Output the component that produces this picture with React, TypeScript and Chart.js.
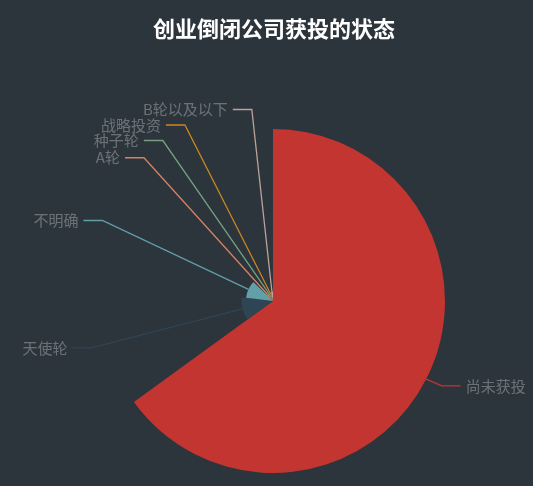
import { useEffect, useRef } from "react";
import { Chart, registerables } from "chart.js";

Chart.register(...registerables);

const chartTitle = "创业倒闭公司获投的状态";
const categories = ["尚未获投", "天使轮", "不明确", "A轮", "种子轮", "战略投资", "B轮以及以下"];
const counts = [3200, 588, 506, 164, 150, 137, 178];
const colors = ["#c23531", "#2f4554", "#61a0a8", "#d48265", "#749f83", "#ca8622", "#bda29a"];

const total = counts.reduce((a, b) => a + b, 0);
const maxCount = Math.max(...counts);

const FONT = '"Noto Sans CJK SC", "Noto Sans", sans-serif';

// echarts-like outside labels: elbow on a ring outside the pie, overlaps spread on y
const roseLabels = {
  id: "roseLabels",
  beforeDraw(chart: any) {
    const ctx = chart.ctx;
    ctx.save();
    ctx.fillStyle = "#ffffff";
    ctx.font = `bold 22px ${FONT}`;
    ctx.textAlign = "center";
    ctx.textBaseline = "middle";
    ctx.fillText(chartTitle, 274, 29);
    ctx.restore();
  },
  afterDatasetsDraw(chart: any) {
    const ctx = chart.ctx;
    const scale = chart.scales.r;
    const cx = scale.xCenter;
    const cy = scale.yCenter;
    const r = scale.drawingArea;
    const len = 15;
    const len2 = 19;
    const lineH = 15.5;
    const meta = chart.getDatasetMeta(0);

    const items = meta.data.map((arc: any, i: number) => {
      const p = arc.getProps(["startAngle", "endAngle", "outerRadius"], true);
      const mid = (p.startAngle + p.endAngle) / 2;
      const dx = Math.cos(mid);
      const dy = Math.sin(mid);
      return {
        i,
        x1: cx + p.outerRadius * dx,
        y1: cy + p.outerRadius * dy,
        x2: cx + (r + len) * dx,
        y: cy + (r + len) * dy,
        side: dx < -1e-6 ? -1 : 1,
        ax: 0,
      };
    });

    for (const side of [-1, 1]) {
      const list = items.filter((it: any) => it.side === side).sort((a: any, b: any) => a.y - b.y);
      // spread overlapping groups around their mean
      for (let iter = 0; iter < 20; iter++) {
        let moved = false;
        let k = 0;
        while (k < list.length) {
          let e = k;
          while (e + 1 < list.length && list[e + 1].y - list[e].y < lineH - 0.01) e++;
          if (e > k) {
            const n = e - k + 1;
            let mean = 0;
            for (let j = k; j <= e; j++) mean += list[j].y;
            mean /= n;
            for (let j = k; j <= e; j++) list[j].y = mean + (j - k - (n - 1) / 2) * lineH;
            moved = true;
          }
          k = e + 1;
        }
        if (!moved) break;
      }
      for (const it of list) {
        const d = Math.abs(it.y - cy);
        if (d < r + len) {
          const R2 = r + len + len2;
          it.ax = cx + side * Math.sqrt(R2 * R2 - d * d);
        } else {
          it.ax = it.x2 + side * len2;
        }
      }
    }

    ctx.save();
    ctx.lineWidth = 1.3;
    ctx.font = `15px ${FONT}`;
    ctx.textBaseline = "middle";
    for (const it of items) {
      const ex = it.ax - it.side * len2;
      ctx.strokeStyle = colors[it.i];
      ctx.beginPath();
      ctx.moveTo(it.x1, it.y1);
      ctx.lineTo(ex, it.y);
      ctx.lineTo(it.ax, it.y);
      ctx.stroke();
      ctx.fillStyle = "rgba(255,255,255,0.3)";
      ctx.textAlign = it.side < 0 ? "right" : "left";
      ctx.fillText(categories[it.i], it.ax + it.side * 5, it.y);
    }
    ctx.restore();
  },
};

export default function App() {
  const canvasRef = useRef<HTMLCanvasElement>(null);
  const chartRef = useRef<Chart | null>(null);

  useEffect(() => {
    if (!canvasRef.current) return;
    if (chartRef.current) chartRef.current.destroy();

    chartRef.current = new Chart(canvasRef.current, {
      type: "polarArea",
      data: {
        labels: categories,
        datasets: [
          {
            data: counts,
            backgroundColor: colors,
            borderWidth: 0,
            angle: (c: any) => (counts[c.dataIndex] / total) * 360,
          } as any,
        ],
      },
      options: {
        animation: false,
        responsive: true,
        maintainAspectRatio: false,
        layout: { padding: { left: 101, right: 88, top: 129, bottom: 13 } },
        plugins: {
          legend: { display: false },
          tooltip: { enabled: false },
        },
        scales: {
          r: {
            display: false,
            min: 0,
            max: maxCount,
            startAngle: 0,
          },
        },
      },
      plugins: [roseLabels],
    });

    return () => {
      if (chartRef.current) {
        chartRef.current.destroy();
        chartRef.current = null;
      }
    };
  }, []);

  return (
    <div
      style={{
        position: "fixed",
        left: 0,
        top: 0,
        width: 533,
        height: 486,
        background: "#2c343c",
      }}
    >
      <canvas ref={canvasRef} />
    </div>
  );
}
